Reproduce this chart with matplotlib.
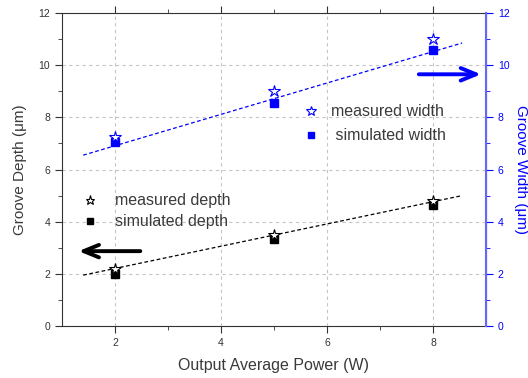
#!/usr/bin/env python3
# -*- coding: utf-8 -*-
import numpy as np
import matplotlib
matplotlib.use("Agg")
import matplotlib.pyplot as plt

plt.rcParams['font.family'] = ['Liberation Sans', 'DejaVu Sans']

# Data
power = [2, 5, 8]
measured_depth = [2.2, 3.5, 4.8]
simulated_depth = [2.0, 3.35, 4.65]
measured_width = [7.25, 9.0, 11.0]
simulated_width = [7.05, 8.55, 10.6]

# Linear trend lines (end points)
fit_x = [1.4, 8.55]
fit_depth = [1.95, 5.0]
fit_width = [6.55, 10.85]

blue = '#0000ff'
axis_blue = '#6666ff'
dark = '#333333'
txt = '#3a3a3a'

fig = plt.figure(figsize=(5.28, 3.78), dpi=100)
ax = fig.add_axes([62 / 528, 1 - 326 / 378, (486 - 62) / 528, (326 - 13) / 378])
ax2 = ax.twinx()

ax.set_xlim(1, 9)
ax.set_ylim(0, 12)
ax2.set_ylim(0, 12)

ax.grid(True, color='#c4c4c4', linestyle=(0, (3, 3)), linewidth=0.8)
ax.set_axisbelow(True)

ax.set_xticks([2, 4, 6, 8])
ax.set_xticks([3, 5, 7], minor=True)
ax.set_yticks(np.arange(0, 13, 2))
ax.set_yticks(np.arange(1, 12, 2), minor=True)
ax2.set_yticks(np.arange(0, 13, 2))
ax2.set_yticks(np.arange(1, 12, 2), minor=True)

ax.tick_params(axis='both', which='both', labelsize=7.5, colors=dark, direction='out')
ax.tick_params(axis='x', which='both', top=True, labeltop=False)
ax.tick_params(axis='both', which='major', length=5)
ax.tick_params(axis='both', which='minor', length=3)
ax2.tick_params(axis='y', which='both', labelsize=7.5, colors=blue, direction='out')
ax2.tick_params(axis='y', which='major', length=5)
ax2.tick_params(axis='y', which='minor', length=3)

for s in ['left', 'bottom', 'top']:
    ax.spines[s].set_color(dark)
ax2.spines['right'].set_color(axis_blue)
ax2.spines['right'].set_linewidth(1.5)
for s in ['left', 'bottom', 'top']:
    ax2.spines[s].set_visible(False)

# trend lines
ax.plot(fit_x, fit_depth, color='black', linestyle=(0, (3, 2)), linewidth=0.9)
ax2.plot(fit_x, fit_width, color=blue, linestyle=(0, (3, 2)), linewidth=0.9)

# depth
ax.plot(power, simulated_depth, 's', color='black', markersize=6, linestyle='none',
        label='simulated depth')
ax.plot(power, measured_depth, '*', markerfacecolor='white', markeredgecolor='black',
        markersize=9, markeredgewidth=0.8, linestyle='none', label='measured depth')

# width
ax2.plot(power, simulated_width, 's', color=blue, markersize=6, linestyle='none',
         label=' simulated width')
ax2.plot(power, measured_width, '*', markerfacecolor='white', markeredgecolor=blue,
         markersize=9, markeredgewidth=0.8, linestyle='none', label='measured width')

# legends
h, l = ax.get_legend_handles_labels()
ax.legend(h[::-1], l[::-1], loc='upper left', bbox_to_anchor=(0.047, 0.424),
          frameon=False, fontsize=11.5, handlelength=1.0, handletextpad=1.05,
          labelspacing=0.38, borderpad=0, borderaxespad=0, markerscale=0.75,
          labelcolor=txt)
h2, l2 = ax2.get_legend_handles_labels()
ax2.legend(h2[::-1], l2[::-1], loc='upper left', bbox_to_anchor=(0.568, 0.708),
           frameon=False, fontsize=11.5, handlelength=1.0, handletextpad=0.75,
           labelspacing=0.55, borderpad=0, borderaxespad=0, markerscale=0.8,
           labelcolor=txt)

# arrows
ax.annotate('', xy=(1.26, 2.87), xytext=(2.53, 2.87),
            arrowprops=dict(arrowstyle='->,head_length=1.1,head_width=0.45',
                            color='black', lw=2.8))
ax2.annotate('', xy=(8.96, 9.65), xytext=(7.68, 9.65),
             arrowprops=dict(arrowstyle='->,head_length=1.1,head_width=0.45',
                             color=blue, lw=2.8))

ax.set_xlabel('Output Average Power (W)', fontsize=11.5, color=txt, labelpad=7)
ax.set_ylabel('Groove Depth (μm)', fontsize=11, color=txt, labelpad=8)
ax2.set_ylabel('Groove Width (μm)', fontsize=11, color=blue, rotation=270, labelpad=13)

fig.savefig('out.png', dpi=100)
